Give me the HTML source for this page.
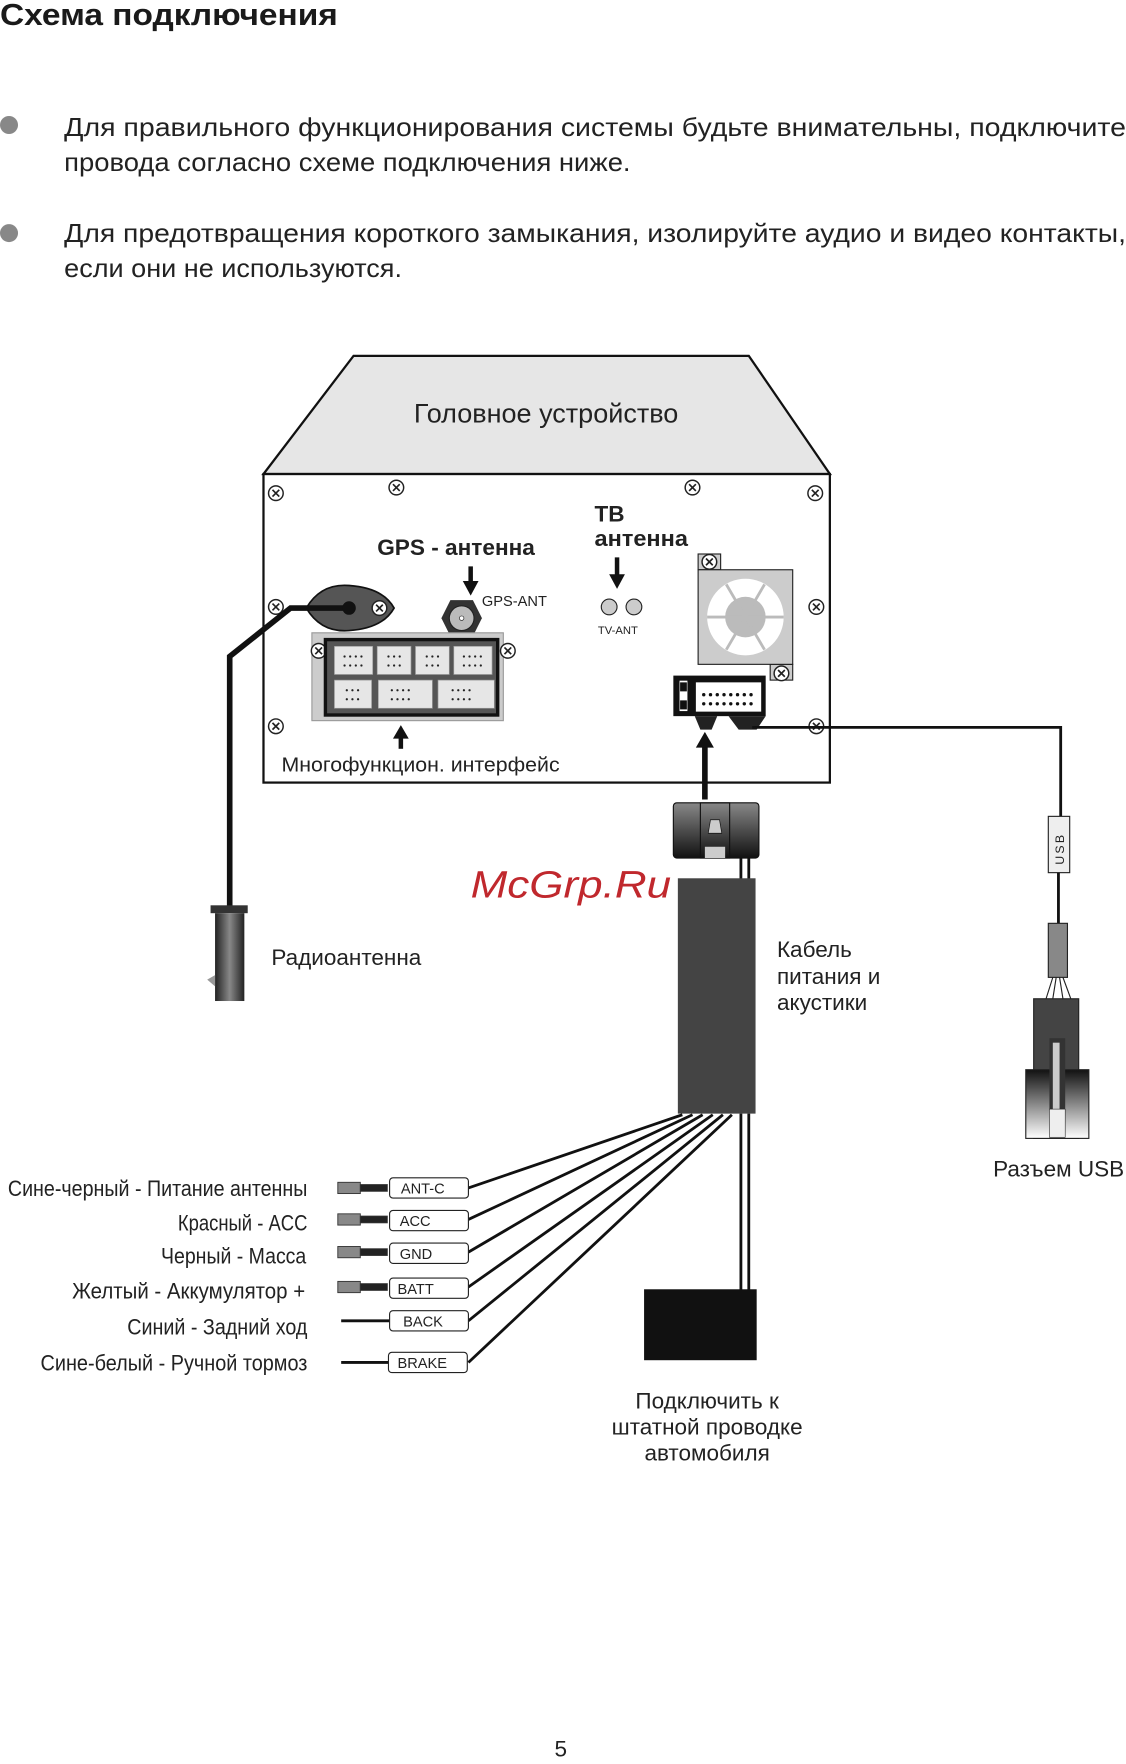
<!DOCTYPE html>
<html><head><meta charset="utf-8"><style>
html,body{margin:0;padding:0;background:#fff;width:1126px;height:1764px;overflow:hidden}
svg{display:block}
text{font-family:"Liberation Sans",sans-serif;fill:#222}
</style></head><body>
<svg width="1126" height="1764" viewBox="0 0 1000 1566.6" xmlns="http://www.w3.org/2000/svg">
<defs>
<linearGradient id="g1" x1="0" y1="0" x2="1" y2="0"><stop offset="0" stop-color="#222"/><stop offset="0.5" stop-color="#888"/><stop offset="1" stop-color="#222"/></linearGradient>
<linearGradient id="g2" x1="0" y1="0" x2="0" y2="1"><stop offset="0" stop-color="#888"/><stop offset="1" stop-color="#111"/></linearGradient>
<linearGradient id="g3" x1="0" y1="0" x2="0" y2="1"><stop offset="0" stop-color="#111"/><stop offset="1" stop-color="#fff"/></linearGradient>
<g id="scr"><circle r="6.5" fill="#fff" stroke="#222" stroke-width="1.3"/><path d="M-3,-3L3,3M3,-3L-3,3" stroke="#222" stroke-width="1.5"/></g>
<g id="d4" fill="#222"><circle cx="0" cy="0" r="1"/><circle cx="5" cy="0" r="1"/><circle cx="10" cy="0" r="1"/><circle cx="15" cy="0" r="1"/><circle cx="0" cy="8" r="1"/><circle cx="5" cy="8" r="1"/><circle cx="10" cy="8" r="1"/><circle cx="15" cy="8" r="1"/></g>
<g id="d3" fill="#222"><circle cx="0" cy="0" r="1"/><circle cx="5" cy="0" r="1"/><circle cx="10" cy="0" r="1"/><circle cx="0" cy="8" r="1"/><circle cx="5" cy="8" r="1"/><circle cx="10" cy="8" r="1"/></g>
</defs>
<text x="0" y="22" font-size="27" font-weight="bold" textLength="300" lengthAdjust="spacingAndGlyphs" style="fill:#1a1a1a">Схема подключения</text>
<circle cx="8" cy="111" r="8" fill="#888"/>
<circle cx="8" cy="207" r="8" fill="#888"/>
<text x="57" y="121" font-size="23" textLength="943" lengthAdjust="spacingAndGlyphs">Для правильного функционирования системы будьте внимательны, подключите</text>
<text x="57" y="152" font-size="23" textLength="503" lengthAdjust="spacingAndGlyphs">провода согласно схеме подключения ниже.</text>
<text x="57" y="215" font-size="23" textLength="943" lengthAdjust="spacingAndGlyphs">Для предотвращения короткого замыкания, изолируйте аудио и видео контакты,</text>
<text x="57" y="246" font-size="23" textLength="300" lengthAdjust="spacingAndGlyphs">если они не используются.</text>

<polygon points="314,316 665,316 737,421 234,421" fill="#e6e6e6" stroke="#111" stroke-width="2"/>
<text x="485" y="375" font-size="24" text-anchor="middle">Головное устройство</text>
<rect x="234" y="421" width="503" height="274" fill="#fff" stroke="#111" stroke-width="2"/>
<use href="#scr" x="245" y="438"/><use href="#scr" x="352" y="433"/><use href="#scr" x="615" y="433"/><use href="#scr" x="724" y="438"/>
<use href="#scr" x="245" y="539"/><use href="#scr" x="725" y="539"/><use href="#scr" x="245" y="645"/><use href="#scr" x="725" y="645"/>

<text x="335" y="493" font-size="20" font-weight="bold" textLength="140" lengthAdjust="spacingAndGlyphs">GPS - антенна</text>
<path d="M418,503V520" stroke="#111" stroke-width="4"/><path d="M411,516L418,529L425,516Z" fill="#111"/>
<text x="428" y="538" font-size="13">GPS-ANT</text>
<polygon points="400,533 420,533 428,549 420,565 400,565 392,549" fill="#333"/>
<circle cx="410" cy="549" r="11" fill="#bbb" stroke="#222"/><circle cx="410" cy="549" r="2" fill="#fff" stroke="#222" stroke-width="0.6"/>
<path d="M272,540 Q285,518 310,520 Q340,522 350,540 Q340,558 310,560 Q285,562 272,540Z" fill="#555" stroke="#111" stroke-width="1.5"/>
<use href="#scr" x="337" y="540"/>
<rect x="277" y="562" width="170" height="78" fill="#ccc" stroke="#999"/>
<use href="#scr" x="283" y="578"/><use href="#scr" x="451" y="578"/>
<rect x="289" y="568" width="153" height="67" fill="#555" stroke="#111" stroke-width="3"/>
<g fill="#e6e6e6" stroke="#999" stroke-width="0.6">
<rect x="297" y="574" width="34" height="25"/><rect x="335" y="574" width="30" height="25"/><rect x="369" y="574" width="30" height="25"/><rect x="403" y="574" width="34" height="25"/>
<rect x="297" y="604" width="33" height="25"/><rect x="336" y="604" width="48" height="25"/><rect x="389" y="604" width="50" height="25"/>
</g>
<use href="#d4" x="306" y="583"/><use href="#d3" x="345" y="583"/><use href="#d3" x="379" y="583"/><use href="#d4" x="412" y="583"/>
<use href="#d3" x="308" y="613"/><use href="#d4" x="348" y="613"/><use href="#d4" x="402" y="613"/>
<path d="M356,665V654" stroke="#111" stroke-width="4"/><path d="M349,656L356,644L363,656Z" fill="#111"/>
<text x="250" y="685" font-size="18" textLength="247" lengthAdjust="spacingAndGlyphs">Многофункцион. интерфейс</text>

<text x="528" y="463" font-size="20" font-weight="bold">ТВ</text>
<text x="528" y="485" font-size="20" font-weight="bold" textLength="83" lengthAdjust="spacingAndGlyphs">антенна</text>
<path d="M548,495V512" stroke="#111" stroke-width="4"/><path d="M541,510L548,523L555,510Z" fill="#111"/>
<circle cx="541" cy="539" r="7" fill="#ccc" stroke="#222"/><circle cx="563" cy="539" r="7" fill="#ccc" stroke="#222"/>
<text x="531" y="563" font-size="10">TV-ANT</text>

<rect x="620" y="492" width="20" height="14" fill="#ccc" stroke="#222"/><use href="#scr" x="630" y="499"/>
<rect x="684" y="590" width="20" height="14" fill="#ccc" stroke="#222"/><use href="#scr" x="694" y="598"/>
<rect x="620" y="506" width="84" height="84" fill="#ccc" stroke="#222"/>
<circle cx="662" cy="548" r="34" fill="#fff"/>
<circle cx="662" cy="548" r="18" fill="#bbb"/>
<g stroke="#bbb" stroke-width="2.5"><path d="M662,548L696,548M662,548L628,548M662,548L679,519M662,548L645,519M662,548L679,577M662,548L645,577"/></g>

<rect x="598" y="600" width="82" height="36" fill="#111"/>
<rect x="618" y="606" width="58" height="26" fill="#fff"/>
<rect x="603" y="604" width="8" height="28" fill="#fff" stroke="#111"/>
<rect x="604" y="606" width="6" height="8" fill="#111"/><rect x="604" y="622" width="6" height="8" fill="#111"/>
<g fill="#111"><circle cx="625" cy="617" r="1.5"/><circle cx="631" cy="617" r="1.5"/><circle cx="637" cy="617" r="1.5"/><circle cx="643" cy="617" r="1.5"/><circle cx="649" cy="617" r="1.5"/><circle cx="655" cy="617" r="1.5"/><circle cx="661" cy="617" r="1.5"/><circle cx="667" cy="617" r="1.5"/>
<circle cx="625" cy="625" r="1.5"/><circle cx="631" cy="625" r="1.5"/><circle cx="637" cy="625" r="1.5"/><circle cx="643" cy="625" r="1.5"/><circle cx="649" cy="625" r="1.5"/><circle cx="655" cy="625" r="1.5"/><circle cx="661" cy="625" r="1.5"/><circle cx="667" cy="625" r="1.5"/></g>
<polygon points="617,636 637,636 632,648 622,648" fill="#222"/>
<polygon points="647,636 680,636 672,648 656,648" fill="#222"/>
<path d="M626,710V662" stroke="#111" stroke-width="5"/><path d="M618,664L626,650L634,664Z" fill="#111"/>
<path d="M668,646H942V725" fill="none" stroke="#111" stroke-width="2.5"/>
<rect x="931" y="725" width="19" height="50" fill="#eee" stroke="#222"/>
<text transform="translate(945,768) rotate(-90)" font-size="11" font-family="Liberation Serif" letter-spacing="2">USB</text>
<path d="M940,775V820" stroke="#111" stroke-width="2.5"/>
<rect x="931" y="820" width="17" height="48" fill="#888" stroke="#222"/>
<path d="M935,868L929,887M938,868L935,887M941,868L944,887M944,868L951,887" stroke="#222"/>
<rect x="918" y="887" width="40" height="124" fill="#444" stroke="#222"/>
<rect x="911" y="950" width="56" height="61" fill="url(#g3)" stroke="#222"/>
<rect x="932" y="922" width="14" height="88" fill="#333"/>
<rect x="935" y="926" width="6" height="60" fill="#ccc"/>
<rect x="932" y="985" width="14" height="25" fill="#eee" stroke="#222" stroke-width="0.5"/>
<text x="882" y="1045" font-size="20">Разъем USB</text>

<path d="M310,540H258L204,583V805" fill="none" stroke="#111" stroke-width="5"/>
<circle cx="310" cy="540" r="6" fill="#111"/>
<rect x="187" y="804" width="33" height="7" fill="#333"/>
<rect x="191" y="811" width="26" height="78" fill="url(#g1)"/>
<polygon points="191,866 184,870 191,876" fill="#999"/>
<text x="241" y="857" font-size="20">Радиоантенна</text>

<rect x="598" y="713" width="76" height="49" rx="3" fill="url(#g2)" stroke="#111"/>
<rect x="622" y="713" width="26" height="49" fill="none" stroke="#111" stroke-width="1"/>
<polygon points="629,740 641,740 639,728 631,728" fill="#ccc" stroke="#111" stroke-width="0.6"/>
<rect x="626" y="752" width="18" height="10" fill="#ccc"/>
<path d="M658,762V782M665,762V782" stroke="#111" stroke-width="2.5"/>
<rect x="602" y="780" width="69" height="209" fill="#444"/>
<text x="418" y="797" font-size="34" font-style="italic" style="fill:#c0282d" textLength="178" lengthAdjust="spacingAndGlyphs">McGrp.Ru</text>
<text x="690" y="850" font-size="20">Кабель</text>
<text x="690" y="874" font-size="20">питания и</text>
<text x="690" y="897" font-size="20">акустики</text>

<g stroke="#111" stroke-width="2.5" fill="none">
<path d="M606,990L416,1055"/><path d="M615,990L416,1083"/><path d="M624,990L416,1112"/><path d="M633,990L416,1143"/><path d="M642,990L416,1173"/><path d="M650,990L416,1210"/>
<path d="M658,989V1146M665,989V1146"/>
<path d="M303,1173H346M303,1210H346"/>
</g>
<rect x="572" y="1145" width="100" height="63" fill="#111"/>
<text x="628" y="1251" font-size="20" text-anchor="middle">Подключить к</text>
<text x="628" y="1274" font-size="20" text-anchor="middle">штатной проводке</text>
<text x="628" y="1297" font-size="20" text-anchor="middle">автомобиля</text>

<g fill="#888" stroke="#333" stroke-width="0.8">
<rect x="300" y="1050" width="20" height="10"/><rect x="320" y="1052" width="24" height="6" fill="#222"/>
<rect x="300" y="1078" width="20" height="10"/><rect x="320" y="1080" width="24" height="6" fill="#222"/>
<rect x="300" y="1107" width="20" height="10"/><rect x="320" y="1109" width="24" height="6" fill="#222"/>
<rect x="300" y="1138" width="20" height="10"/><rect x="320" y="1140" width="24" height="6" fill="#222"/>
</g>
<g fill="#fff" stroke="#222" stroke-width="1">
<rect x="346" y="1046" width="70" height="18" rx="3"/><rect x="346" y="1075" width="70" height="18" rx="3"/><rect x="346" y="1104" width="70" height="18" rx="3"/><rect x="346" y="1135" width="70" height="18" rx="3"/><rect x="346" y="1164" width="70" height="18" rx="3"/><rect x="345" y="1201" width="70" height="18" rx="3"/>
</g>
<g font-size="13">
<text x="356" y="1060">ANT-C</text><text x="355" y="1089">ACC</text><text x="355" y="1118">GND</text><text x="353" y="1149">BATT</text><text x="358" y="1178">BACK</text><text x="353" y="1215">BRAKE</text>
</g>
<g font-size="20" text-anchor="end">
<text x="273" y="1062" textLength="266" lengthAdjust="spacingAndGlyphs">Сине-черный -  Питание антенны</text>
<text x="273" y="1093" textLength="115" lengthAdjust="spacingAndGlyphs">Красный -  ACC</text>
<text x="272" y="1122" textLength="129" lengthAdjust="spacingAndGlyphs">Черный -  Масса</text>
<text x="271" y="1153" textLength="207" lengthAdjust="spacingAndGlyphs">Желтый -  Аккумулятор +</text>
<text x="273" y="1185" textLength="160" lengthAdjust="spacingAndGlyphs">Синий -  Задний ход</text>
<text x="273" y="1217" textLength="237" lengthAdjust="spacingAndGlyphs">Сине-белый -  Ручной тормоз</text>
</g>
<text x="498" y="1560" font-size="20" text-anchor="middle">5</text>
</svg>
</body></html>
